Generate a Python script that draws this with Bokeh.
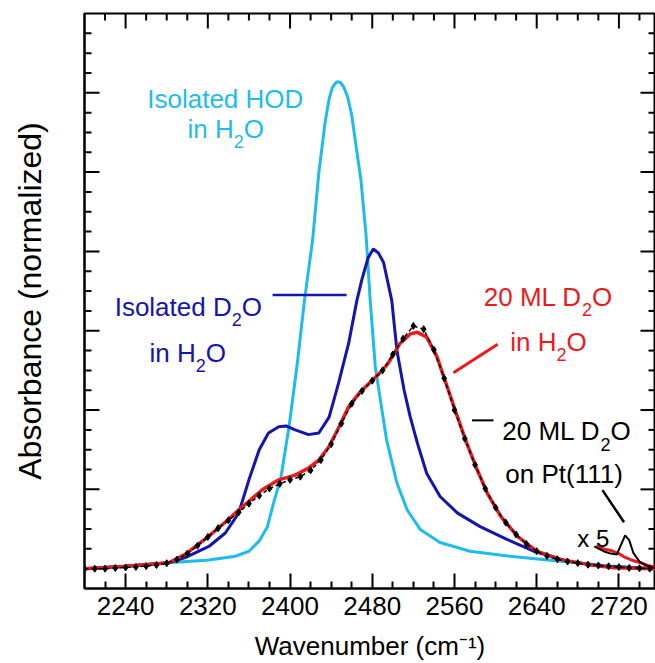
from bokeh.plotting import figure
from bokeh.models import Label, LinearAxis, FixedTicker, Range1d
from bokeh.embed import file_html
from bokeh.resources import INLINE

# ---------------- data ----------------
HOD_X = [2200, 2240, 2282, 2321, 2347, 2360, 2370, 2378, 2384, 2391, 2399, 2407, 2414, 2422, 2428,
         2434, 2438, 2441, 2444, 2446, 2449, 2452, 2456, 2460, 2464, 2469, 2474, 2478, 2483, 2488,
         2494, 2504, 2514, 2527, 2546, 2575, 2614, 2663, 2712, 2755]
HOD_Y = [0.0, 0.03, 0.075, 0.108, 0.158, 0.22, 0.35, 0.53, 0.83, 1.14, 1.79, 2.58, 3.38, 4.15, 4.99,
         5.62, 5.92, 6.06, 6.12, 6.14, 6.13, 6.08, 5.95, 5.72, 5.35, 4.9, 4.2, 3.38, 2.54, 2.12,
         1.62, 1.08, 0.74, 0.49, 0.33, 0.22, 0.158, 0.095, 0.033, 0.0]

D2O_X = [2200, 2240, 2282, 2298, 2321, 2337, 2350, 2360, 2370, 2379, 2389, 2396, 2405, 2418, 2428,
         2438, 2447, 2457, 2465, 2470, 2476, 2481, 2486, 2491, 2499, 2504, 2511, 2517, 2524, 2533,
         2546, 2563, 2585, 2611, 2637, 2670, 2702, 2755]
D2O_Y = [0.0, 0.03, 0.075, 0.14, 0.28, 0.45, 0.70, 1.12, 1.50, 1.71, 1.79, 1.80, 1.75, 1.69, 1.71,
         1.91, 2.33, 2.84, 3.38, 3.65, 3.92, 4.03, 3.98, 3.86, 3.38, 2.75, 2.25, 1.91, 1.58, 1.20,
         0.91, 0.70, 0.53, 0.37, 0.22, 0.095, 0.033, 0.0]

H2O20_X = [2200, 2240, 2282, 2298, 2321, 2340, 2350, 2360, 2373, 2389, 2405, 2418, 2428, 2438, 2447,
           2457, 2467, 2478, 2486, 2495, 2507, 2517, 2524, 2533, 2543, 2553, 2563, 2572, 2582, 2592,
           2605, 2621, 2640, 2663, 2689, 2715, 2755]
H2O20_Y = [0.0, 0.03, 0.075, 0.18, 0.41, 0.62, 0.74, 0.85, 0.995, 1.12, 1.18, 1.27, 1.37, 1.54, 1.77,
           2.04, 2.21, 2.35, 2.45, 2.58, 2.84, 2.96, 2.98, 2.92, 2.67, 2.29, 1.91, 1.58, 1.25, 0.95,
           0.66, 0.41, 0.22, 0.117, 0.054, 0.013, 0.0]

PT_X = [2200, 2210, 2220, 2230, 2240, 2250, 2260, 2270, 2280, 2290, 2300, 2310, 2320, 2330, 2340,
        2350, 2360, 2370, 2380, 2390, 2400, 2410, 2420, 2430, 2440, 2450, 2460, 2470, 2480, 2490,
        2500, 2510, 2520, 2530, 2540, 2550, 2560, 2570, 2580, 2590, 2600, 2610, 2620, 2630, 2640,
        2650, 2660, 2670, 2680, 2690, 2700, 2710, 2720, 2730, 2740, 2750]
PT_Y = [0.0, 0.0, 0.0, 0.008, 0.015, 0.022, 0.032, 0.046, 0.068, 0.115, 0.19, 0.29, 0.40, 0.51, 0.61,
        0.71, 0.82, 0.92, 1.01, 1.07, 1.12, 1.16, 1.24, 1.37, 1.57, 1.83, 2.08, 2.24, 2.37, 2.50,
        2.70, 2.90, 3.06, 3.02, 2.76, 2.40, 2.00, 1.64, 1.31, 1.01, 0.77, 0.58, 0.43, 0.31, 0.22,
        0.16, 0.12, 0.09, 0.07, 0.05, 0.04, 0.03, 0.02, 0.01, 0.005, 0.0]

# x5 magnified insets near 2700-2755
PT5_X = [2696, 2705, 2712, 2718, 2722, 2726, 2730, 2734, 2740, 2748, 2755]
PT5_Y = [0.28, 0.22, 0.19, 0.18, 0.30, 0.42, 0.36, 0.20, 0.09, 0.03, 0.01]
H2O5_X = [2698, 2705, 2712, 2720, 2725, 2732, 2741, 2748, 2755]
H2O5_Y = [0.29, 0.25, 0.23, 0.19, 0.15, 0.11, 0.075, 0.04, 0.02]

X_MAJOR = [2240, 2320, 2400, 2480, 2560, 2640, 2720]
X_MINOR = [2220, 2260, 2280, 2300, 2340, 2360, 2380, 2420, 2440, 2460, 2500, 2520, 2540,
           2580, 2600, 2620, 2660, 2680, 2700, 2740]
Y_MAJOR = [0, 1, 2, 3, 4, 5, 6]
Y_MINOR = [0.25, 0.5, 0.75, 1.25, 1.5, 1.75, 2.25, 2.5, 2.75, 3.25, 3.5, 3.75, 4.25, 4.5,
           4.75, 5.25, 5.5, 5.75, 6.25, 6.5, 6.75]

# ---------------- layout / styling ----------------
FONT = "Liberation Sans"
CYAN = "#1EBCEC"
BLUE = "#1414B0"
RED = "#EC1A1E"
BLACK = "#000000"
FS = 26

X0, X1 = 2200, 2755.6
Y0, Y1 = -0.25, 7.0
FRAME_W, FRAME_H = 571, 576
BL, BT, BB = 84, 13, 74

p = figure(width=BL + FRAME_W, height=BT + FRAME_H + BB,
           x_range=Range1d(X0, X1), y_range=Range1d(Y0, Y1),
           output_backend="svg", toolbar_location=None, x_axis_type=None, y_axis_type=None,
           min_border_left=BL, min_border_right=0, min_border_top=BT, min_border_bottom=BB)
p.outline_line_color = "black"
p.outline_line_width = 2
p.background_fill_color = "white"
p.border_fill_color = "white"

xaxis = LinearAxis(ticker=FixedTicker(ticks=X_MAJOR, minor_ticks=X_MINOR))
xaxis.axis_line_color = "black"
xaxis.axis_line_width = 2
xaxis.major_tick_line_color = "black"
xaxis.major_tick_line_width = 2
xaxis.minor_tick_line_color = "black"
xaxis.minor_tick_line_width = 2
xaxis.major_tick_in = 15
xaxis.major_tick_out = 0
xaxis.minor_tick_in = 7
xaxis.minor_tick_out = 0
xaxis.major_label_text_font = FONT
xaxis.major_label_text_font_size = f"{FS}px"
xaxis.major_label_text_color = "black"
xaxis.major_label_standoff = 8
xaxis.axis_label = "Wavenumber (cm\u207b\u00b9)"
xaxis.axis_label_text_font = FONT
xaxis.axis_label_text_font_size = f"{FS}px"
xaxis.axis_label_text_font_style = "normal"
xaxis.axis_label_text_color = "black"
xaxis.axis_label_standoff = 13
p.add_layout(xaxis, "below")

# left axis only carries the title (ticks are drawn below as segments)
yaxis = LinearAxis(ticker=FixedTicker(ticks=[], minor_ticks=[]))
yaxis.axis_line_color = "black"
yaxis.axis_line_width = 2
yaxis.major_tick_out = 0
yaxis.major_tick_in = 0
yaxis.axis_label = "Absorbance (normalized)"
yaxis.axis_label_text_font = FONT
yaxis.axis_label_text_font_size = "32px"
yaxis.axis_label_text_font_style = "normal"
yaxis.axis_label_text_color = "black"
yaxis.axis_label_standoff = 37
p.add_layout(yaxis, "left")

# tick marks on the other three sides (inside the frame), lengths in pixels
XPX = FRAME_W / (X1 - X0)
YPX = FRAME_H / (Y1 - Y0)
MAJ, MIN = 15, 7


def vticks(xs, length):
    n = len(xs)
    p.segment(x0=xs, y0=[Y1] * n, x1=xs, y1=[Y1 - length / YPX] * n,
              line_color="black", line_width=2)


def hticks(ys, length, left=True):
    n = len(ys)
    x_edge = X0 if left else X1
    sgn = 1 if left else -1
    p.segment(x0=[x_edge] * n, y0=ys, x1=[x_edge + sgn * length / XPX] * n, y1=ys,
              line_color="black", line_width=2)


vticks(X_MAJOR, MAJ)
vticks(X_MINOR, MIN)
for side in (True, False):
    hticks(Y_MAJOR, MAJ, side)
    hticks(Y_MINOR, MIN, side)

# ---------------- curves ----------------
p.line(HOD_X, HOD_Y, line_color=CYAN, line_width=3)
p.line(D2O_X, D2O_Y, line_color=BLUE, line_width=3)
p.line(H2O20_X, H2O20_Y, line_color=RED, line_width=3.5)
p.line(H2O5_X, H2O5_Y, line_color=RED, line_width=3)
p.line(PT_X, PT_Y, line_color=BLACK, line_width=1.5, line_dash="4 3")
p.scatter(PT_X, PT_Y, marker="diamond", size=7, fill_color=BLACK, line_color=BLACK)
p.line(PT5_X, PT5_Y, line_color=BLACK, line_width=2)

# ---------------- annotation leader lines ----------------
LEADERS = [
    ([2383, 2455], [3.45, 3.45], BLUE, 2.5),
    ([2559, 2602], [2.47, 2.83], RED, 3),
    ([2577, 2598], [1.87, 1.87], BLACK, 2),
    ([2704, 2725], [0.99, 0.585], BLACK, 2.5),
]
for lx, ly, c, w in LEADERS:
    p.line(lx, ly, line_color=c, line_width=w)

# ---------------- texts ----------------
W = {' ': .278, '0': .556, '1': .556, '2': .556, '5': .556, '-': .333, '(': .333, ')': .333,
     'A': .667, 'D': .722, 'H': .722, 'I': .278, 'L': .556, 'M': .833, 'O': .778, 'P': .667,
     'W': .944, 'a': .556, 'b': .556, 'c': .5, 'd': .556, 'e': .556, 'i': .222, 'l': .222,
     'm': .833, 'n': .556, 'o': .556, 'r': .333, 's': .5, 't': .278, 'u': .556, 'v': .5,
     'x': .5, 'z': .5}


def tw(s, size):
    return sum(W.get(ch, .556) for ch in s) * size


def rich(parts, x, y, color, size=FS):
    sizes = [size if kind == "n" else round(size * 0.7) for _, kind in parts]
    total = sum(tw(t, fs) for (t, _), fs in zip(parts, sizes))
    off = -total / 2
    for (t, kind), fs in zip(parts, sizes):
        dy = 0 if kind == "n" else (-13 if kind == "sub" else 11)
        p.add_layout(Label(x=x, y=y, x_offset=off, y_offset=dy, text=t, text_font=FONT,
                           text_font_size=f"{fs}px", text_color=color,
                           text_align="left", text_baseline="alphabetic"))
        off += tw(t, fs)


rich([("Isolated HOD", "n")], 2337, 5.92, CYAN)
rich([("in H", "n"), ("2", "sub"), ("O", "n")], 2337.5, 5.55, CYAN)
rich([("Isolated D", "n"), ("2", "sub"), ("O", "n")], 2301, 3.30, BLUE)
rich([("in H", "n"), ("2", "sub"), ("O", "n")], 2300.5, 2.72, BLUE)
rich([("20 ML D", "n"), ("2", "sub"), ("O", "n")], 2651, 3.43, RED)
rich([("in H", "n"), ("2", "sub"), ("O", "n")], 2651.5, 2.86, RED)
rich([("20 ML D", "n"), ("2", "sub"), ("O", "n")], 2669, 1.73, BLACK)
rich([("on Pt(111)", "n")], 2668.5, 1.19, BLACK)
rich([("x 5", "n")], 2695, 0.385, BLACK, size=24)

open("out.html", "w").write(file_html(p, INLINE))
